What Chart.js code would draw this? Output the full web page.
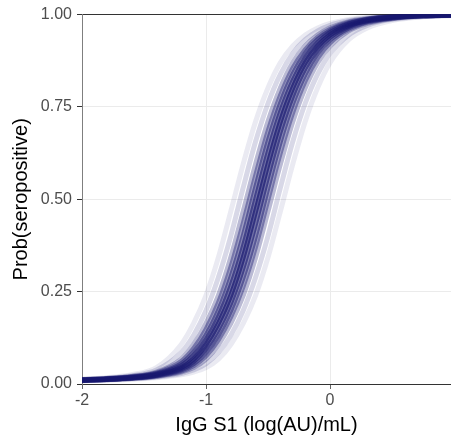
<!DOCTYPE html>
<html>
<head>
<meta charset="utf-8">
<script src="https://cdn.jsdelivr.net/npm/chart.js@4"></script>
<style>
  html, body { margin: 0; padding: 0; background: #fff; }
  canvas { display: block; }
</style>
</head>
<body>
<canvas id="chart" width="451" height="439"></canvas>
<script>
// Posterior draws of P(seropositive) vs IgG S1
// at shared x positions. Each draw is one translucent curve.
const xGrid = [-2, -1.8, -1.6, -1.4, -1.2, -1.1, -1.0, -0.9, -0.8, -0.7, -0.6,
  -0.5, -0.4, -0.3, -0.2, -0.1, 0, 0.15, 0.3, 0.5, 0.75, 0.975];

const drawA = [0.0130, 0.0171, 0.0251, 0.0444, 0.107, 0.164, 0.240, 0.343, 0.468, 0.596, 0.711, 0.802, 0.870, 0.915, 0.945, 0.964, 0.976, 0.987, 0.993, 0.997, 0.999, 1.000];
const drawB = [0.0123, 0.0159, 0.0226, 0.0379, 0.0855, 0.132, 0.199, 0.289, 0.401, 0.532, 0.657, 0.760, 0.839, 0.895, 0.932, 0.956, 0.971, 0.984, 0.991, 0.996, 0.998, 0.999];
const drawC = [0.0117, 0.0148, 0.0204, 0.0323, 0.0672, 0.107, 0.164, 0.240, 0.343, 0.468, 0.596, 0.711, 0.802, 0.870, 0.915, 0.945, 0.964, 0.981, 0.989, 0.995, 0.998, 0.999];
const drawD = [0.0114, 0.0144, 0.0196, 0.0304, 0.0610, 0.096, 0.148, 0.220, 0.316, 0.435, 0.564, 0.684, 0.781, 0.855, 0.905, 0.939, 0.960, 0.979, 0.988, 0.995, 0.998, 0.999];
const drawE = [0.0111, 0.0139, 0.0187, 0.0285, 0.0547, 0.0855, 0.132, 0.199, 0.289, 0.401, 0.532, 0.657, 0.760, 0.839, 0.895, 0.932, 0.956, 0.976, 0.987, 0.994, 0.998, 0.999];
const drawF = [0.0108, 0.0135, 0.0179, 0.0268, 0.0496, 0.0764, 0.120, 0.182, 0.265, 0.372, 0.500, 0.627, 0.736, 0.821, 0.883, 0.924, 0.951, 0.974, 0.986, 0.994, 0.998, 0.999];
const drawG = [0.0105, 0.0130, 0.0171, 0.0251, 0.0444, 0.0672, 0.107, 0.164, 0.240, 0.343, 0.468, 0.596, 0.711, 0.802, 0.870, 0.915, 0.945, 0.971, 0.984, 0.993, 0.997, 0.999];
const drawH = [0.0103, 0.0127, 0.0165, 0.0239, 0.0412, 0.0610, 0.096, 0.148, 0.220, 0.316, 0.435, 0.564, 0.684, 0.781, 0.855, 0.905, 0.939, 0.968, 0.983, 0.992, 0.997, 0.999];
const drawI = [0.0100, 0.0123, 0.0159, 0.0226, 0.0379, 0.0547, 0.0855, 0.132, 0.199, 0.289, 0.401, 0.532, 0.657, 0.760, 0.839, 0.895, 0.932, 0.964, 0.981, 0.991, 0.997, 0.998];
const drawJ = [0.0098, 0.0120, 0.0154, 0.0215, 0.0351, 0.0496, 0.0764, 0.120, 0.182, 0.265, 0.372, 0.500, 0.627, 0.736, 0.821, 0.883, 0.924, 0.960, 0.979, 0.990, 0.997, 0.998];
const drawK = [0.0095, 0.0117, 0.0148, 0.0204, 0.0323, 0.0444, 0.0672, 0.107, 0.164, 0.240, 0.343, 0.468, 0.596, 0.711, 0.802, 0.870, 0.915, 0.956, 0.976, 0.989, 0.996, 0.998];
const drawL = [0.0090, 0.0111, 0.0139, 0.0187, 0.0285, 0.0379, 0.0547, 0.0855, 0.132, 0.199, 0.289, 0.401, 0.532, 0.657, 0.760, 0.839, 0.895, 0.945, 0.971, 0.987, 0.995, 0.998];
const drawM = [0.0086, 0.0105, 0.0130, 0.0171, 0.0251, 0.0323, 0.0444, 0.0672, 0.107, 0.164, 0.240, 0.343, 0.468, 0.596, 0.711, 0.802, 0.870, 0.932, 0.964, 0.984, 0.994, 0.997];

const xTicks = [-2, -1, 0];
const yTicks = [0, 0.25, 0.5, 0.75, 1];

const draws = [drawA, drawB, drawC, drawD, drawE, drawF, drawG, drawH, drawI, drawJ, drawK, drawL, drawM];

// central draws more opaque, outer ones faint
const ALPHAS = [0.72, 0.62, 0.52, 0.42, 0.3, 0.17, 0.09];
const FONT = "'Liberation Sans', Arial, Helvetica, sans-serif";
const mid = (draws.length - 1) / 2;

const datasets = draws.map((ys, i) => ({
  data: ys.map((y, j) => ({ x: xGrid[j], y })),
  borderColor: `rgba(25, 25, 112, ${ALPHAS[Math.abs(i - mid)]})`,
  borderWidth: 5,
  pointRadius: 0,
  cubicInterpolationMode: "monotone",
  clip: 0,
}));

new Chart(document.getElementById("chart"), {
  type: "line",
  data: { datasets },
  options: {
    responsive: false,
    animation: false,
    layout: { padding: { top: 14, right: 0, bottom: 0, left: 0 } },
    plugins: { legend: { display: false }, tooltip: { enabled: false } },
    scales: {
      x: {
        type: "linear",
        min: -2,
        max: 0.975,
        afterBuildTicks: (s) => { s.ticks = xTicks.map((v) => ({ value: v })); },
        afterFit: (s) => { s.height = 55; },
        grid: { color: "#ebebeb", lineWidth: 1, tickLength: 5, tickColor: "#666" },
        border: { color: "#333", width: 1 },
        ticks: {
          color: "#4d4d4d",
          font: { family: FONT, size: 16 },
          padding: 2,
          maxRotation: 0,
          callback: (v) => String(v),
        },
        title: {
          display: true,
          text: "IgG S1 (log(AU)/mL)",
          color: "#000",
          font: { family: FONT, size: 20 },
          padding: { top: 0, bottom: 2 },
        },
      },
      y: {
        min: 0,
        max: 1,
        afterBuildTicks: (s) => { s.ticks = yTicks.map((v) => ({ value: v })); },
        afterFit: (s) => { s.width = 82; },
        grid: {
          color: (ctx) => (ctx.tick && ctx.tick.value === 1 ? "#333" : "#ebebeb"),
          lineWidth: 1,
          tickLength: 5,
          tickColor: "#333",
        },
        border: { color: "#7f7f7f", width: 1 },
        ticks: {
          color: "#4d4d4d",
          font: { family: FONT, size: 16 },
          padding: 5,
          callback: (v) => Number(v).toFixed(2),
        },
        title: {
          display: true,
          text: "Prob(seropositive)",
          color: "#000",
          font: { family: FONT, size: 20 },
          padding: { top: 9, bottom: 0 },
        },
      },
    },
  },
});
</script>
</body>
</html>
